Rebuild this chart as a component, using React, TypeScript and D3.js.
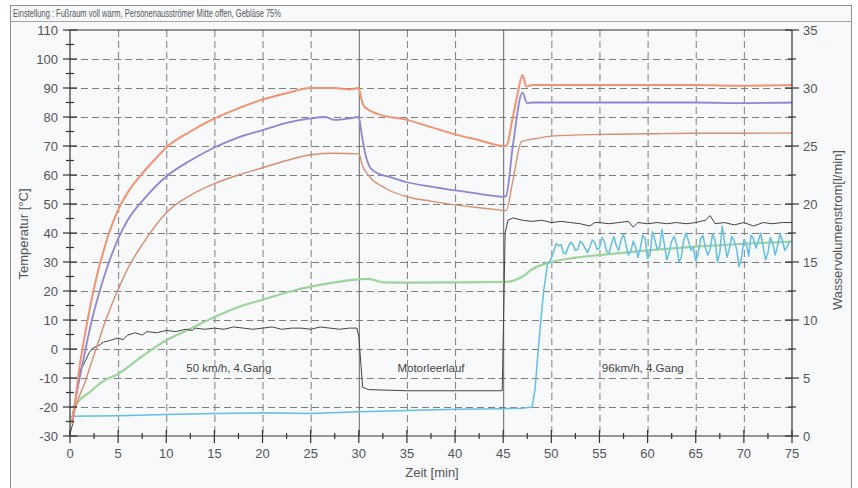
import { useEffect, useRef } from 'react'
import { select, scaleLinear, line, range, curveMonotoneX, curveLinear } from 'd3'

const TITLE = 'Einstellung : Fußraum voll warm, Personenausströmer Mitte offen, Gebläse 75%'
const PHASES = ['50 km/h, 4.Gang', 'Motorleerlauf', '96km/h, 4.Gang']
const PHASE_AT = [16.5, 37.5, 59.5] // label centres in minutes
const PHASE_EDGES = [30, 45]

// temperatures [°C] over time [min]
const tOrange = [0.2, 0.5, 1, 1.5, 2, 2.5, 3, 3.5, 4, 5, 6, 7.5, 9, 10, 12.5, 15, 17.5, 20, 22.5, 25, 27.5, 29, 30, 30.2, 30.5, 31, 32, 35, 37.5, 40, 42.5, 45, 45.3, 46, 46.5, 47, 47.4, 48, 50, 55, 60, 65, 70, 75]
const vOrange = [-25, -19, -6, 4, 13, 21, 28, 34, 39.5, 48, 54, 60.5, 66, 69.5, 75, 79.5, 83, 86, 88.2, 90, 90, 89.5, 90, 87, 84, 82.5, 81, 79, 76.5, 74, 72, 70, 70, 80, 88, 94.5, 90.5, 91, 91, 91, 91, 91, 90.8, 91]

const tPurple = [0.2, 0.5, 1, 1.5, 2, 2.5, 3, 3.5, 4, 5, 6, 7.5, 10, 12.5, 15, 17.5, 20, 22.5, 25, 26.5, 27.5, 29, 30, 30.3, 30.7, 31.2, 32, 33, 35, 37.5, 40, 42.5, 45, 45.3, 46, 47, 47.5, 48, 50, 55, 60, 65, 70, 75]
const vPurple = [-25, -19, -10, -2, 6, 13, 19, 24.5, 29.5, 38, 44.5, 51, 59.5, 65, 69.5, 73, 75.5, 78, 79.5, 80, 79, 79.5, 80, 74, 67, 62.5, 60.5, 59.5, 57.5, 56, 54.7, 53.5, 52.5, 52.8, 70, 88.4, 84.7, 85, 85, 85, 85, 85, 84.8, 85]

const tBrown = [0.2, 0.5, 1, 1.5, 2, 2.5, 3, 3.5, 4, 5, 6.2, 7.5, 10, 12.5, 15, 17.5, 20, 22.5, 25, 27.5, 30, 30.4, 31, 31.5, 32.2, 33, 35, 37.5, 40, 42.5, 45, 45.3, 46, 46.9, 48.5, 50, 55, 60, 65, 70, 75]
const vBrown = [-26, -21, -16, -12, -7, -2, 3, 8, 12.5, 20.5, 29, 36, 47, 53, 57, 60, 62.5, 65, 67, 67.5, 67.3, 63, 60, 58, 56.5, 55, 52.5, 51, 49.7, 48.7, 47.8, 47.7, 58, 71.5, 72.6, 73.4, 74, 74.2, 74.4, 74.4, 74.5]

const tGreen = [0.3, 0.7, 2, 3.5, 5, 7.5, 10, 12.5, 15, 17.5, 20, 22.5, 25, 27.5, 30, 31, 32.5, 35, 40, 45, 46, 47, 48, 50, 52.5, 55, 60, 65, 70, 75]
const vGreen = [-22, -19, -15, -11, -8.6, -2.5, 3, 7, 11, 14.5, 17, 19.5, 21.5, 23, 24, 24.2, 23, 22.9, 23, 23.1, 23.5, 25, 27.5, 30, 31.5, 32.4, 34, 35.3, 36.3, 37]

// water flow [l/min] over time [min]
const tBlack = [0, 0.3, 0.6, 1, 1.5, 2, 2.4, 3, 3.5, 4, 5, 5.5, 6, 6.8, 7.5, 8, 9, 10, 11, 12, 12.7, 13, 14, 15, 16, 17, 18, 19, 20, 21, 22, 23, 24, 25, 26, 27, 28, 29, 29.8, 30, 30.4, 31, 35, 40, 44.9, 45.2, 45.5, 46, 47, 48, 49, 50, 51, 52, 53, 54, 54.5, 55, 56, 57, 58, 58.5, 59, 60, 61, 62, 63, 64, 65, 66, 66.5, 67, 68, 69, 70, 71, 72, 73, 74, 75]
const vBlack = [0.2, 1.1, 3.5, 5.6, 6.3, 7.2, 7.6, 7.8, 8.1, 8.2, 8.45, 8.3, 8.7, 8.9, 8.7, 9.0, 8.9, 9.1, 9.0, 9.2, 9.1, 9.3, 9.2, 9.3, 9.2, 9.4, 9.3, 9.2, 9.3, 9.4, 9.2, 9.3, 9.3, 9.2, 9.4, 9.3, 9.2, 9.3, 9.3, 8.6, 4.2, 4.0, 3.9, 3.9, 3.9, 17.5, 18.6, 18.8, 18.6, 18.5, 18.6, 18.4, 18.5, 18.4, 18.3, 18.1, 18.4, 18.4, 18.3, 18.4, 18.5, 18.0, 18.4, 18.3, 18.4, 18.3, 18.4, 18.3, 18.4, 18.6, 19.0, 18.3, 18.4, 18.2, 18.4, 18.1, 18.4, 18.3, 18.4, 18.4]

const tCyanBase = [0, 5, 10, 15, 20, 25, 30, 35, 40, 45, 47, 48, 48.3, 48.8, 49.2, 49.6]
const vCyanBase = [1.7, 1.75, 1.85, 1.95, 2.0, 1.95, 2.1, 2.2, 2.3, 2.35, 2.4, 2.5, 4, 9, 12.5, 14.8]
// noisy part, sampled every 0.25 min from 50 min on
const CYAN_START = 50
const CYAN_STEP = 0.25
const vCyanNoisy = [
  15.3, 15.9, 16.6, 16.4, 16.5, 15.8, 15.7, 16.3, 16.7, 16.5, 16.0, 16.1, 16.8, 16.6, 16.2, 15.8,
  16.3, 16.9, 16.7, 16.1, 16.2, 17.1, 16.8, 15.9, 15.8, 16.6, 17.2, 16.4, 16.0, 16.9, 17.4, 16.5,
  15.6, 15.9, 16.8, 16.3, 15.4, 16.2, 17.3, 17.0, 15.3, 15.6, 17.6, 16.9, 16.1, 16.3, 17.8, 16.4,
  15.2, 15.9, 16.8, 17.2, 16.6, 15.0, 15.4, 16.9, 17.5, 16.8, 16.0, 16.3, 15.1, 15.7, 17.0, 17.3,
  16.2, 15.6, 16.1, 17.4, 16.9, 15.0, 15.8, 18.1, 16.7, 15.4, 16.2, 17.2, 16.8, 16.1, 14.6, 15.3,
  16.9, 16.6, 15.5, 17.3, 17.0, 16.2, 16.8, 17.5, 16.3, 15.2, 15.8, 17.1, 16.6, 15.6, 16.4, 17.4,
  16.9, 16.0, 16.3, 16.8,
]

export default function App() {
  const ref = useRef<SVGSVGElement>(null)

  useEffect(() => {
    const svg = select(ref.current)
    svg.selectAll('*').remove()

    const W = 858, H = 488
    const L = 70, R = 792, T = 30, B = 436
    const x = scaleLinear().domain([0, 75]).range([L, R])
    const yT = scaleLinear().domain([-30, 110]).range([B, T])
    const yF = scaleLinear().domain([0, 35]).range([B, T])
    const font = 'Arial, "Liberation Sans", sans-serif'

    svg.append('rect').attr('width', W).attr('height', H).attr('fill', '#fff')
    // outer frame
    svg.append('rect').attr('x', 10.5).attr('y', 5.5).attr('width', 841).attr('height', H)
      .attr('fill', '#f7f9fb').attr('stroke', '#8a9096')
    svg.append('line').attr('x1', 11).attr('x2', 851).attr('y1', 21.5).attr('y2', 21.5).attr('stroke', '#a0a6ab')
    svg.append('text').attr('x', 13).attr('y', 17).attr('font-family', font).attr('font-size', 11)
      .attr('fill', '#555').attr('textLength', 268).attr('lengthAdjust', 'spacingAndGlyphs').text(TITLE)

    const grid = svg.append('g').attr('stroke', '#808080').attr('stroke-width', 1).attr('stroke-dasharray', '7,4')
    range(5, 75, 5).filter(v => !PHASE_EDGES.includes(v)).forEach(v => {
      grid.append('line').attr('x1', x(v) + 0.5).attr('x2', x(v) + 0.5).attr('y1', T).attr('y2', B)
    })
    range(-20, 110, 10).forEach(v => {
      grid.append('line').attr('x1', L).attr('x2', R).attr('y1', Math.round(yT(v)) + 0.5).attr('y2', Math.round(yT(v)) + 0.5)
    })
    PHASE_EDGES.forEach(v => {
      svg.append('line').attr('x1', x(v) + 0.5).attr('x2', x(v) + 0.5).attr('y1', T).attr('y2', B)
        .attr('stroke', '#666').attr('stroke-width', 1)
    })

    const lineT = (ts: number[], vs: number[]) =>
      line<number>().curve(curveMonotoneX).x((_, i) => x(ts[i])).y(d => yT(d))(vs)
    const lineF = (ts: number[], vs: number[]) =>
      line<number>().curve(curveLinear).x((_, i) => x(ts[i])).y(d => yF(d))(vs)

    const tCyan = tCyanBase.concat(vCyanNoisy.map((_, i) => CYAN_START + i * CYAN_STEP))
    const vCyan = vCyanBase.concat(vCyanNoisy)

    const series = [
      { d: lineT(tGreen, vGreen), c: '#9dd49b', w: 2.2 },
      { d: lineF(tCyan, vCyan), c: '#62bfe6', w: 1.5 },
      { d: lineF(tBlack, vBlack), c: '#444', w: 1 },
      { d: lineT(tBrown, vBrown), c: '#dc8e70', w: 1.4 },
      { d: lineT(tPurple, vPurple), c: '#8f86d6', w: 1.8 },
      { d: lineT(tOrange, vOrange), c: '#f5916f', w: 2 },
    ]
    series.forEach(s => {
      svg.append('path').attr('d', s.d).attr('fill', 'none').attr('stroke', s.c)
        .attr('stroke-width', s.w).attr('stroke-linejoin', 'round')
    })

    // axes
    const ax = svg.append('g').attr('stroke', '#333').attr('stroke-width', 1.2)
    ax.append('line').attr('x1', L).attr('x2', L).attr('y1', T).attr('y2', B)
    ax.append('line').attr('x1', R).attr('x2', R).attr('y1', T).attr('y2', B)
    ax.append('line').attr('x1', L).attr('x2', R).attr('y1', B).attr('y2', B)
    ax.append('line').attr('x1', L).attr('x2', R).attr('y1', T).attr('y2', T)

    range(-30, 111, 10).forEach(v => ax.append('line').attr('x1', L - 7).attr('x2', L + 7).attr('y1', yT(v)).attr('y2', yT(v)))
    range(-25, 110, 10).forEach(v => ax.append('line').attr('x1', L - 4).attr('x2', L + 4).attr('y1', yT(v)).attr('y2', yT(v)))
    range(0, 76, 5).forEach(v => ax.append('line').attr('x1', x(v)).attr('x2', x(v)).attr('y1', B - 6).attr('y2', B + 7))
    range(2.5, 75, 5).forEach(v => ax.append('line').attr('x1', x(v)).attr('x2', x(v)).attr('y1', B - 3).attr('y2', B + 3))
    range(0, 36, 5).forEach(v => ax.append('line').attr('x1', R - 7).attr('x2', R + 7).attr('y1', yF(v)).attr('y2', yF(v)))
    range(2.5, 35, 5).forEach(v => ax.append('line').attr('x1', R - 4).attr('x2', R + 4).attr('y1', yF(v)).attr('y2', yF(v)))

    const lab = svg.append('g').attr('font-family', font).attr('font-size', 13).attr('fill', '#555')
    range(-30, 111, 10).forEach(v => lab.append('text').attr('x', L - 12).attr('y', yT(v)).attr('dy', '0.35em')
      .attr('text-anchor', 'end').text(v))
    range(0, 76, 5).forEach(v => lab.append('text').attr('x', x(v)).attr('y', B + 17).attr('dy', '0.35em')
      .attr('text-anchor', 'middle').text(v))
    range(0, 36, 5).forEach(v => lab.append('text').attr('x', R + 11).attr('y', yF(v)).attr('dy', '0.35em')
      .attr('text-anchor', 'start').text(v))

    lab.append('text').attr('x', 432).attr('y', 472).attr('dy', '0.35em').attr('text-anchor', 'middle').text('Zeit [min]')
    lab.append('text').attr('transform', `translate(23,234) rotate(-90)`).attr('dy', '0.35em')
      .attr('text-anchor', 'middle').text('Temperatur [°C]')
    lab.append('text').attr('transform', `translate(837,230) rotate(-90)`).attr('dy', '0.35em')
      .attr('text-anchor', 'middle').text('Wasservolumenstrom[l/min]')

    PHASES.forEach((p, i) => {
      svg.append('text').attr('x', x(PHASE_AT[i])).attr('y', 368).attr('dy', '0.35em')
        .attr('text-anchor', 'middle').attr('font-family', font).attr('font-size', 11.5)
        .attr('fill', '#444').text(p)
    })
  }, [])

  return (
    <svg ref={ref} width={858} height={488} style={{ position: 'absolute', left: 0, top: 0 }} />
  )
}
